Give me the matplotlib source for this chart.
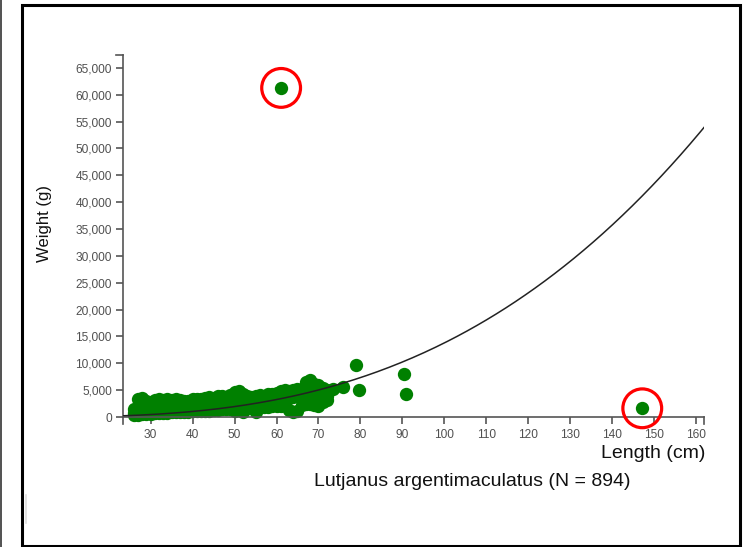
import numpy as np
import matplotlib.pyplot as plt
from matplotlib.lines import Line2D
from matplotlib.patches import Rectangle
from matplotlib.ticker import FuncFormatter

# blob of fish, one column per cm of length: low / mid / high weight (g)
blob_length = list(range(26, 73))
blob_low = [300, 400, 500, 600, 600, 700, 700, 800, 800, 900,
            900, 900, 1000, 1000, 1100, 1100, 1100, 1200, 1200, 1300,
            1300, 1400, 1400, 1500, 1200, 1600, 900, 1600, 1700, 1000,
            1800, 1800, 1900, 2000, 2000, 2100, 2200, 1300, 900, 1100,
            2300, 2400, 2500, 2300, 2100, 2800, 3200]
blob_mid = [800, 1800, 2200, 1800, 1600, 2000, 2100, 1900, 2000, 2100,
            2200, 2000, 1900, 2100, 2300, 2200, 2400, 2300, 2500, 2600,
            2700, 2800, 2600, 2900, 3100, 3300, 3000, 2900, 2700, 2900,
            3000, 2900, 3100, 3300, 3400, 3600, 3800, 3600, 3700, 3900,
            4000, 4600, 4800, 4500, 4200, 4100, 4000]
blob_high = [1500, 3300, 3500, 2900, 2700, 3200, 3300, 3100, 3300, 3200,
             3300, 3200, 2900, 3000, 3300, 3400, 3300, 3500, 3700, 3600,
             3900, 4000, 3800, 4100, 4600, 4800, 4300, 3900, 3700, 3900,
             4100, 3800, 4200, 4300, 4500, 4800, 5100, 4900, 5000, 5300,
             5200, 6500, 6800, 6200, 6000, 5400, 5000]

# scattered larger fish
extra_length = [73.5, 75.8, 78.9, 79.7, 90.3, 90.8]
extra_weight = [5200, 5590, 9680, 5030, 8000, 4280]

# flagged outliers (circled in red)
flag_length = [61.1, 147.2]
flag_weight = [61260, 1620]

# length-weight fit W = a * L^b
fit_a = 0.0303
fit_b = 2.829

species = "Lutjanus argentimaculatus"
n_fish = 894

all_len = blob_length * 3 + extra_length + flag_length
all_wt = blob_low + blob_mid + blob_high + extra_weight + flag_weight

W, H = 750, 547
fig = plt.figure(figsize=(W / 100, H / 100), dpi=100)
plt.rcParams['font.family'] = ['Liberation Sans', 'DejaVu Sans']

ax_l, ax_r, ax_t, ax_b = 123, 704, 55, 417
ax = fig.add_axes([ax_l / W, 1 - ax_b / H, (ax_r - ax_l) / W, (ax_b - ax_t) / H])

x_min, x_max = min(all_len) * 0.9, max(all_len) * 1.1
y_min, y_max = 0, max(all_wt) * 1.1

green = '#008000'
ax.scatter(blob_length * 3, blob_low + blob_mid + blob_high, s=92, color=green,
           linewidths=0, zorder=2, clip_on=False)
ax.scatter(extra_length + flag_length, extra_weight + flag_weight, s=92,
           color=green, linewidths=0, zorder=2, clip_on=False)

lx = np.linspace(x_min, x_max, 300)
ax.plot(lx, fit_a * lx ** fit_b, color='#222222', lw=1.1, zorder=3)

ax.scatter(flag_length, flag_weight, s=780, facecolors='none', edgecolors='#ff0000',
           linewidths=2.3, zorder=4, clip_on=False)

ax.set_xlim(x_min, x_max)
ax.set_ylim(y_min, y_max)
ax.set_xticks(range(30, 161, 10))
ax.set_yticks(range(0, 65001, 5000))
ax.yaxis.set_major_formatter(FuncFormatter(lambda v, p: f"{int(v):,}"))

for side in ['top', 'right']:
    ax.spines[side].set_visible(False)
for side in ['left', 'bottom']:
    ax.spines[side].set_color('#555555')
    ax.spines[side].set_linewidth(1.2)
ax.tick_params(length=5, width=1.2, color='#555555', labelsize=8.6,
               labelcolor='#505050')
ax.tick_params(axis='y', pad=3.0)
ax.tick_params(axis='x', pad=3.4)

# d3-style outer ticks at domain ends
tk = dict(color='#555555', lw=1.2, clip_on=False, transform=fig.transFigure)
fig.add_artist(Line2D([(ax_l - 7) / W, ax_l / W], [1 - ax_t / H] * 2, **tk))
fig.add_artist(Line2D([ax_r / W] * 2, [1 - ax_b / H, 1 - (ax_b + 7) / H], **tk))
fig.add_artist(Line2D([ax_l / W] * 2, [1 - ax_b / H, 1 - (ax_b + 7) / H], **tk))

fig.text(45 / W, 1 - 223 / H, 'Weight (g)', rotation=90, ha='center', va='center',
         fontsize=12, color='#111111')
fig.text(705 / W, 1 - 453 / H, 'Length (cm)', ha='right', va='center',
         fontsize=14, color='#111111')
fig.text(472 / W, 1 - 481 / H, f'{species} (N = {n_fish})', ha='center', va='center',
         fontsize=14, color='#111111')

# screenshot frame
fig.add_artist(Line2D([0.8 / W] * 2, [0, 1], color='#333333', lw=1.2,
                      transform=fig.transFigure))
fig.add_artist(Rectangle((22 / W, 1 - 546 / H), (740 - 22) / W, (546 - 5) / H,
                         fill=False, edgecolor='black', lw=2.2,
                         transform=fig.transFigure))
fig.add_artist(Line2D([26 / W] * 2, [1 - 495 / H, 1 - 523 / H], color='#dddddd',
                      lw=1.2, transform=fig.transFigure))

fig.savefig('out.png', dpi=100)
